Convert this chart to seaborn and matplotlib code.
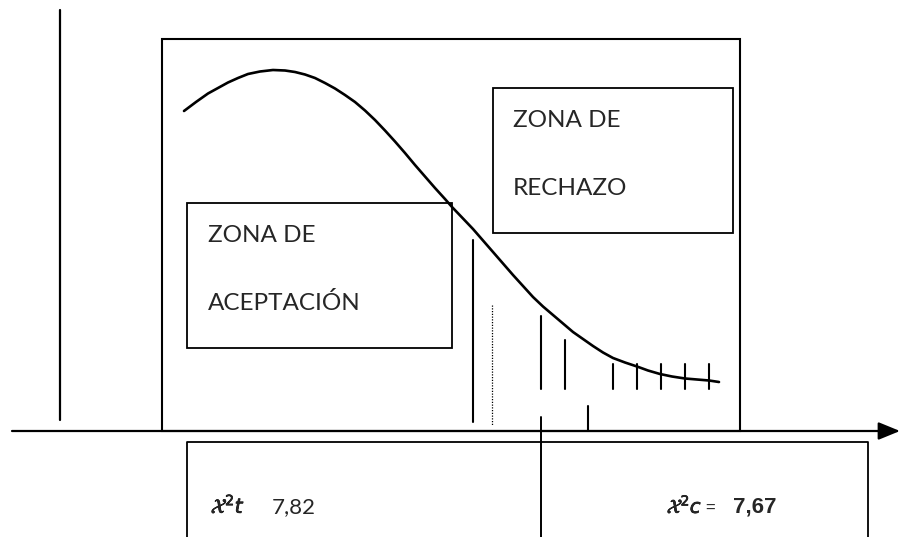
#!/usr/bin/env python
# -*- coding: utf-8 -*-
"""
Diagrama de la prueba chi-cuadrado: zona de aceptación / zona de rechazo
"""

import matplotlib
matplotlib.use("Agg")
import matplotlib.pyplot as plt
import matplotlib.patheffects as pe
from matplotlib.patches import Rectangle
import pandas as pd
import seaborn as sns

# =============================================
# 1. Datos (en píxeles de la imagen, y hacia abajo)
# =============================================
curve_x = [184, 196, 208, 218, 228, 238, 248, 260, 273, 285, 295, 305,
           315, 325, 335, 345, 355, 365, 375, 385, 395, 405, 415, 425,
           435, 445, 452, 463, 473, 483, 493, 503, 513, 523, 533, 543,
           553, 563, 573, 583, 593, 603, 613, 625, 637, 648, 660, 672,
           685, 697, 709, 719]
curve_y = [111, 102, 93.5, 88, 82.5, 78, 74, 71.5, 70, 70.5, 72, 74.5,
           78, 83, 88.5, 95, 102, 110.5, 120, 130.5, 141.5, 153, 165, 176.5,
           188, 199, 207, 218.5, 229, 240.5, 252, 263.5, 275, 286, 297, 306.5,
           315, 323.5, 332, 339, 346, 352.5, 358, 362.5, 366.5, 370.5, 374, 376.5,
           378.5, 379.5, 380.5, 382]

# líneas verticales del área de rechazo
hatch_x = [473, 541, 565, 588, 613, 637, 661, 685, 709]
hatch_top = [240, 316, 340, 406, 364, 364, 364, 364, 364]
hatch_bottom = [422, 389, 389, 431, 389, 389, 389, 389, 389]

zona_aceptacion = ["ZONA DE", "ACEPTACIÓN"]
zona_rechazo = ["ZONA DE", "RECHAZO"]
chi_tabla = "7,82"
chi_calculado = "7,67"

# =============================================
# 2. Estilo
# =============================================
W, H = 902, 537
sns.set_theme(style="white")
plt.rcParams["font.family"] = ["Lato", "DejaVu Sans"]

fig = plt.figure(figsize=(W / 100, H / 100), dpi=100)
ax = fig.add_axes([0, 0, 1, 1])

col = "black"
LW = 1.5


def caja(x0, y0, x1, y1, lw=1.3):
    ax.add_patch(Rectangle((x0, y0), x1 - x0, y1 - y0, fill=False,
                           edgecolor=col, linewidth=lw))


# curva
df_curve = pd.DataFrame({"x": curve_x, "y": curve_y})
sns.lineplot(data=df_curve, x="x", y="y", ax=ax, color=col, lw=1.9,
             sort=False, estimator=None)
ax.set_xlim(0, W)
ax.set_ylim(H, 0)
ax.axis("off")

# eje vertical izquierdo
ax.plot([60, 60], [10, 420], color=col, lw=1.6)

# caja principal
caja(162, 39, 740, 431, lw=1.5)

# eje horizontal con flecha
ax.annotate("", xy=(900, 431), xytext=(12, 431),
            arrowprops=dict(arrowstyle="-|>,head_length=1.1,head_width=0.45",
                            color=col, lw=1.6, shrinkA=0, shrinkB=0))

# caja inferior
ax.plot([187, 187, 868, 868], [537, 442, 442, 537], color=col, lw=1.3)
ax.plot([541, 541], [417, 537], color=col, lw=1.4)

# líneas del área de rechazo
for x, t, b in zip(hatch_x, hatch_top, hatch_bottom):
    ax.plot([x, x], [t, b], color=col, lw=LW)
ax.plot([492, 492], [305, 425], color=col, lw=0.9, linestyle=(0, (1, 1.2)))

# cajas de zonas
caja(187, 203, 452, 348)
caja(493, 88, 733, 233)

fs = 17.5
ax.text(208, 242, zona_aceptacion[0], fontsize=fs, va="baseline", ha="left")
ax.text(208, 310, zona_aceptacion[1], fontsize=fs, va="baseline", ha="left")
ax.text(513, 127, zona_rechazo[0], fontsize=fs, va="baseline", ha="left")
ax.text(513, 195, zona_rechazo[1], fontsize=fs, va="baseline", ha="left")

# valores chi-cuadrado
bold_fx = [pe.withStroke(linewidth=0.5, foreground=col)]
ax.text(211, 513, r"$\mathcal{X}^{2}\mathit{t}$", fontsize=14.5,
        va="baseline", ha="left", path_effects=bold_fx)
ax.text(272, 513, chi_tabla, fontsize=16, va="baseline", ha="left")
ax.text(667, 513, r"$\mathcal{X}^{2}\mathit{c}$", fontsize=14,
        va="baseline", ha="left", path_effects=bold_fx)
ax.text(705, 513, "=", fontsize=12, va="baseline", ha="left",
        family="Liberation Sans")
ax.text(733, 513, chi_calculado, fontsize=16, va="baseline", ha="left",
        family="Liberation Sans", fontweight="bold")

fig.savefig("out.png", dpi=100)
